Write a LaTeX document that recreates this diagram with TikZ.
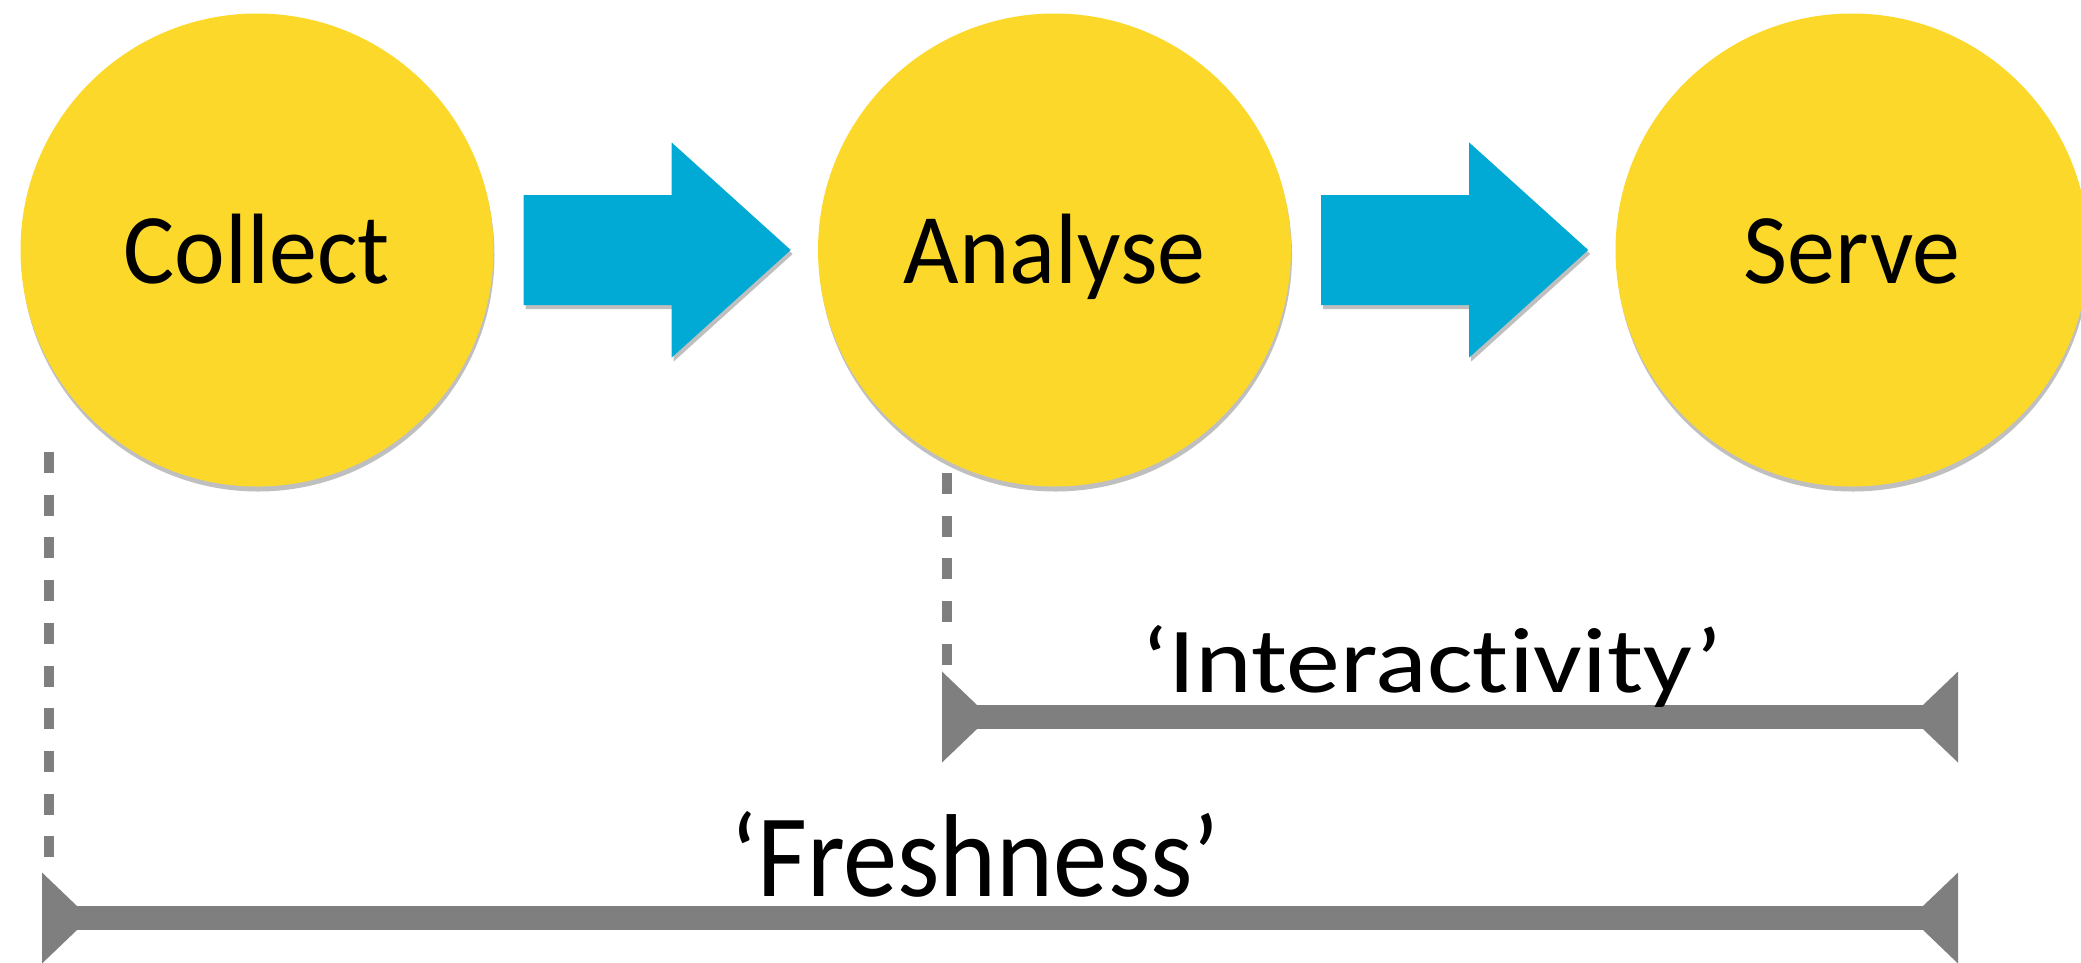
\documentclass[tikz,border=0pt]{standalone}
\usepackage{fontspec}
\setmainfont{Carlito}[Ligatures={NoCommon}]
\usetikzlibrary{shadows,calc}
\definecolor{circyellow}{RGB}{252,216,42}
\definecolor{arrblue}{RGB}{0,170,212}
\definecolor{dimgray}{RGB}{127,127,127}
\tikzset{
  stage/.style={circle, fill=circyellow, minimum size=473pt, inner sep=0pt,
    text height=66pt, text depth=0pt,
    font=\fontsize{100}{100}\selectfont,
    drop shadow={shadow xshift=1pt, shadow yshift=-5pt, opacity=0.25, fill=black}},
  blockarrow/.pic={
    \fill[arrblue, drop shadow={shadow xshift=2pt, shadow yshift=-4pt, opacity=0.25, fill=black}]
      (0,-55) -- (148,-55) -- (148,-107.5) -- (267,0) -- (148,107.5) -- (148,55) -- (0,55) -- cycle;},
  dimhead/.pic={\fill[dimgray] (0,-45.5) -- (35,-12) -- (35,12) -- (0,45.5) -- cycle;},
  dimline/.style={draw=dimgray, line width=24pt},
  guide/.style={draw=dimgray, line width=10pt, dash pattern=on 21pt off 21.7pt},
  lbl/.style={anchor=base, inner sep=0pt}
}
\begin{document}
\begin{tikzpicture}[x=1pt,y=-1pt]
\useasboundingbox (0,0) rectangle (2081,962);
% stages
\node[stage] (collect) at (257,250) {\scalebox{0.96}[1]{Collect}};
\node[stage] (analyse) at (1054.5,250) {\scalebox{0.96}[1]{Analyse}};
\node[stage] (serve) at (1852,250) {\scalebox{0.96}[1]{Serve}};
% block arrows
\pic at ($(collect.east)+(30,0)$) {blockarrow};
\pic at ($(analyse.east)+(30,0)$) {blockarrow};
% dimension end points
\coordinate (fL) at (42,918);
\coordinate (fR) at (1958,918);
\coordinate (iL) at (942,717);
\coordinate (iR) at (1958,717);
\coordinate (g1a) at (49,452);
\coordinate (g1b) at (49,872);
\coordinate (g2a) at (947,473);
\coordinate (g2b) at (947,671);
% guides
\draw[guide] (g1a) -- (g1b);
\draw[guide] (g2a) -- (g2b);
% dimension lines
\draw[dimline] (iL) -- (iR);
\pic at (iL) {dimhead};
\pic[xscale=-1] at (iR) {dimhead};
\draw[dimline] (fL) -- (fR);
\pic at (fL) {dimhead};
\pic[xscale=-1] at (fR) {dimhead};
% labels
\node[lbl, font=\fontsize{93}{93}\selectfont] (inter) at (1432,692) {\scalebox{1.16}[1]{‘Interactivity’}};
\node[lbl, font=\fontsize{118}{118}\selectfont] (fresh) at (975,896) {\scalebox{0.92}[1]{‘Freshness’}};
\end{tikzpicture}
\end{document}
